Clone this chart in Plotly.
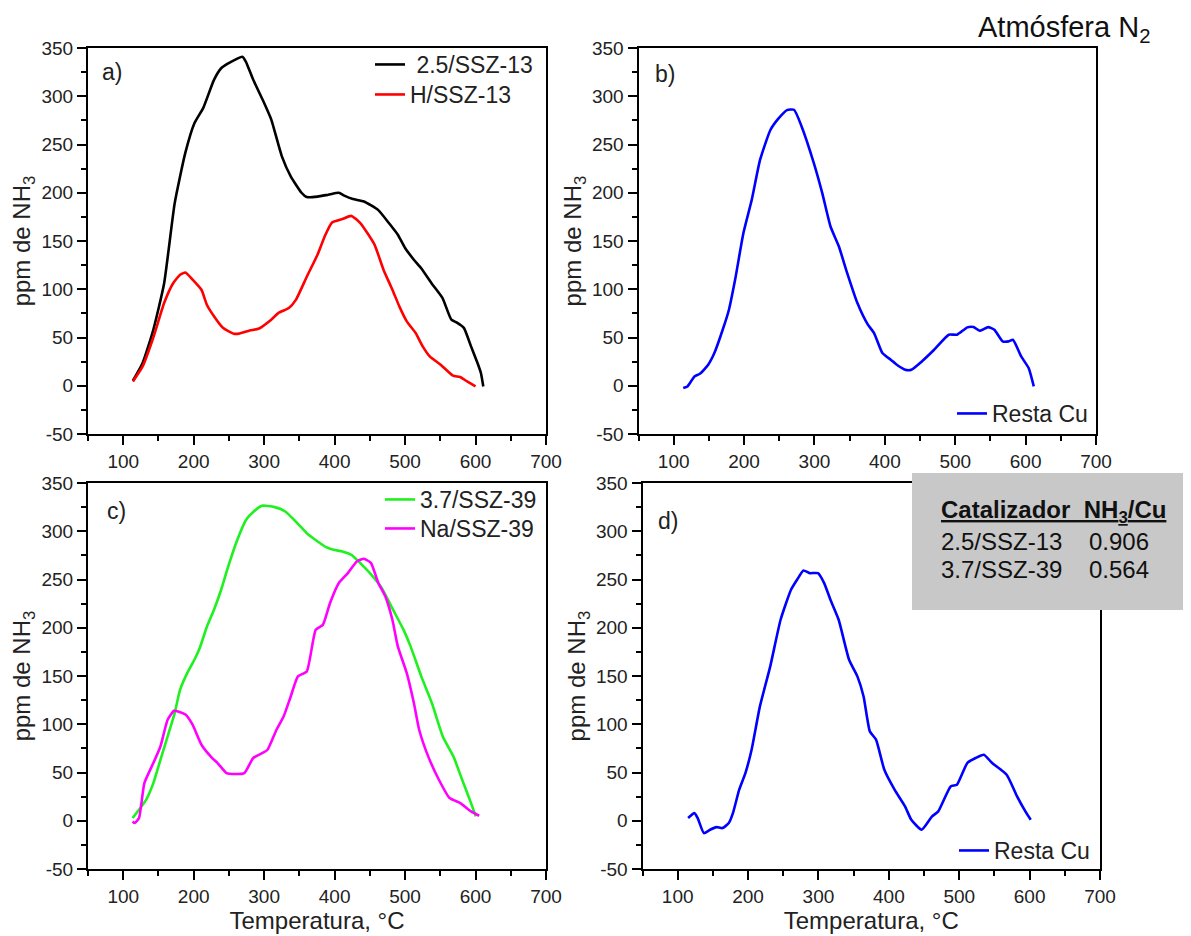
import plotly.graph_objects as go

# ---------------- data ----------------
# a) 2.5/SSZ-13 and H/SSZ-13
temp_a_cu = [113.8, 127.5, 142.7, 158, 173, 188, 201, 213.6, 228.8, 239, 249, 269, 274, 284.5, 300, 310, 325,
             337.7, 353, 360.5, 375.7, 391, 406, 413.7, 426, 441.6, 462, 477, 489.7, 500, 512.5, 522.6, 537.8,
             553, 565.7, 573, 583.4, 593.6, 603.7, 607.7, 611]
nh3_a_cu = [5.2, 23.5, 58, 106, 189, 241, 272, 288, 317, 329, 334, 341, 336, 317, 293, 276, 238,
            217, 200, 195.5, 196, 198, 200, 197, 193.5, 191, 182, 168.6, 156.5, 142.7, 130.6, 122, 106,
            91, 68.4, 65.6, 60, 40.8, 21.8, 13, -0.7]
temp_a_h = [113.8, 127.5, 142.7, 158, 170.6, 180.7, 188.3, 198.4, 211, 218.7, 228.8, 241.5, 256.7, 264.3, 279.5,
            292, 310, 320, 335, 345, 360.5, 375.7, 385.9, 396, 411, 423.8, 436.5, 446.7, 456.8, 469.5, 482,
            492, 502.4, 515, 525, 535, 550.5, 568, 578, 588, 600]
nh3_a_h = [4.5, 20, 50, 85.7, 106, 115, 117.4, 110, 99.5, 84, 72, 60, 54, 54, 57.3,
           59, 68.4, 75.3, 80.5, 89, 113, 135.8, 154.7, 169, 172.7, 176, 168.6, 158, 146, 120, 99.5,
           82, 66.7, 54.6, 40.8, 30.4, 21.8, 10.4, 9, 4.5, -0.7]

# b) Resta Cu (SSZ-13)
temp_b = [113.6, 119.5, 129.5, 137.2, 149, 157.8, 169.6, 178.5, 187.3, 199, 211, 222.7, 237.4, 249, 261, 271,
          281.6, 299, 311, 322.8, 334.6, 346.4, 361, 375.9, 384.7, 396.5, 408.3, 417, 429, 437.7, 452.5,
          470, 490.8, 502.6, 517.3, 526, 535, 546.8, 555.6, 567.4, 576, 582, 593.7, 604.3, 611.6]
nh3_b = [-2.4, -0.7, 9.7, 12.4, 21.8, 33.9, 58, 78.8, 110, 158, 193, 234, 265, 277, 285.6, 286,
         269, 231, 199.8, 165, 144.5, 117, 85.7, 63.3, 54.6, 33.9, 27, 21.8, 16.6, 16.6, 25.2,
         37.3, 52.9, 52.9, 60.5, 60.8, 57, 60.8, 58, 46, 46, 47.7, 30.4, 18.3, -0.7]

# c) 3.7/SSZ-39 and Na/SSZ-39
temp_c_cu = [113.3, 122.4, 132.6, 142.7, 152.8, 163, 173, 180.7, 190.8, 201, 208.6, 218.7, 228.8, 239, 249,
             261.8, 274.4, 284.5, 297, 315, 330, 345, 360.5, 373, 388, 398.5, 411, 423.8, 436.5, 452, 467,
             482, 497.7, 507.8, 523, 538, 553.5, 568.6, 581, 593.6, 600.3]
nh3_c_cu = [2.8, 11.4, 21.8, 39, 63.2, 87.4, 111.6, 135.8, 153, 166.8, 179, 201, 218.7, 239.4, 263.6,
            291, 312, 320, 326.4, 325, 320.5, 310, 298, 291, 283.6, 280.8, 279, 275.6, 267, 255, 241,
            220, 198, 180.7, 149.6, 122, 87.4, 66.7, 42.5, 18.3, 4.5]
temp_c_na = [113.3, 116.4, 122.4, 130, 142.7, 152.8, 163, 172, 178, 188.3, 198.4, 211, 226.3, 233.9, 246.6,
             259, 271.9, 284.5, 297, 304.8, 317.5, 327.6, 337.7, 347.9, 360.5, 373.2, 383.3, 393.5, 406,
             418.8, 431.5, 441.6, 451.7, 462, 472, 482, 489.7, 502.4, 512.5, 520, 532.8, 548, 563.2,
             578.4, 593.6, 605.2]
nh3_c_na = [-0.7, -2.4, 2.8, 39, 59.8, 77, 104.7, 114, 113.3, 110, 99.5, 78.8, 65, 59.8, 49.4,
            48.4, 49.4, 65, 70, 73.6, 94.3, 108, 128.8, 149.6, 154.7, 198, 203, 225.6, 246.3,
            256.6, 268.7, 271.5, 267, 246.3, 232.5, 208.3, 180.7, 153, 122, 94.3, 66.7, 42.5, 23.5,
            18.3, 9.7, 5.2]

# d) Resta Cu (SSZ-39)
temp_d = [114.8, 123.7, 128.4, 137.2, 146, 154.9, 163.7, 172.6, 178.5, 187.3, 196.2, 205, 216.8, 231.5, 246.2,
          261, 269.8, 278.6, 287.5, 299.3, 308.1, 317, 328.7, 343.5, 355.3, 364.1, 373, 381.8, 393.6, 408.3,
          423, 431.9, 446.6, 461.4, 470.2, 487.8, 496.7, 511.4, 523.2, 535, 546.8, 567.4, 582.2, 594, 601.6]
nh3_d = [2.8, 7.9, 2.8, -12.8, -9.3, -6.6, -7.6, -2.4, 7.9, 32, 49.4, 73.6, 118.5, 160, 208.3,
         239.4, 250, 259.4, 256.6, 256.6, 246.3, 229, 208.3, 166.8, 149.6, 128.8, 92.6, 84, 52.8, 32,
         14.9, 1, -9.3, 4.5, 9.7, 35.6, 37.3, 59.8, 65, 68.4, 59.8, 47.7, 25.2, 9.7, 1]

# table
catalysts = ["2.5/SSZ-13", "3.7/SSZ-39"]
nh3_cu_ratio = ["0.906", "0.564"]

panel_labels = ["a)", "b)", "c)", "d)"]
y_ticks = [-50, 0, 50, 100, 150, 200, 250, 300, 350]
y_ticklabels = ["-50", "0", "50", "100", "150", "200", "250", "300", "350"]

# ---------------- layout helpers ----------------
# the page body adds an 8 px margin; size the figure so it fills the 1191x936 window
OFF = 8
W, H = 1191 - OFF, 936 - OFF
FONT = "Liberation Sans, Arial, sans-serif"


def px(x):
    return (x - OFF) / W


def py(y):
    return 1 - (y - OFF) / H


fig = go.Figure()

LW = 2.6
SMOOTH = 0.5
series = [
    (temp_a_cu, nh3_a_cu, "\u00a02.5/SSZ-13", "black", "x", "y", "legend"),
    (temp_a_h, nh3_a_h, "H/SSZ-13", "#ff0000", "x", "y", "legend2"),
    (temp_b, nh3_b, "Resta Cu", "#0000ff", "x2", "y2", "legend3"),
    (temp_c_cu, nh3_c_cu, "3.7/SSZ-39", "#1ff01f", "x3", "y3", "legend4"),
    (temp_c_na, nh3_c_na, "Na/SSZ-39", "#ff00ff", "x3", "y3", "legend5"),
    (temp_d, nh3_d, "Resta Cu", "#0000ff", "x4", "y4", "legend6"),
]
for xs, ys, name, col, xa_, ya_, lg in series:
    fig.add_trace(go.Scatter(x=xs, y=ys, mode="lines", name=name,
                             line=dict(color=col, width=LW, shape="spline", smoothing=SMOOTH),
                             xaxis=xa_, yaxis=ya_, legend=lg))


def xax(domain, anchor, title=None):
    d = dict(domain=domain, anchor=anchor, range=[50, 700], dtick=100, tick0=0,
             ticks="outside", ticklen=9, tickwidth=2, tickcolor="black",
             showline=True, linewidth=2, linecolor="black", mirror=True,
             showgrid=False, zeroline=False, automargin=False,
             tickfont=dict(family=FONT, size=19, color="#222"),
             minor=dict(dtick=50, tick0=0, ticks="outside", ticklen=5, tickwidth=2, tickcolor="black",
                        showgrid=False))
    if title:
        d["title"] = dict(text=title, font=dict(family=FONT, size=24, color="#222"), standoff=2)
    return d


def yax(domain, anchor):
    return dict(domain=domain, anchor=anchor, range=[-50, 350],
                tickmode="array", tickvals=y_ticks, ticktext=y_ticklabels,
                ticks="outside", ticklen=9, tickwidth=2, tickcolor="black",
                showline=True, linewidth=2, linecolor="black", mirror=True,
                showgrid=False, zeroline=False, automargin=False,
                tickfont=dict(family=FONT, size=19, color="#222"),
                title=dict(text="ppm de NH<sub>3</sub>", font=dict(family=FONT, size=24, color="#222"),
                           standoff=4),
                minor=dict(dtick=25, tick0=0, ticks="outside", ticklen=5, tickwidth=2, tickcolor="black",
                           showgrid=False))


xa = [px(88), px(546)]
xb = [px(638.5), px(1096)]
xd = [px(642.5), px(1100)]
ytop = [py(434), py(48)]
ybot = [py(869), py(483)]

legend_font = dict(family=FONT, size=23, color="#222")


def leg(text_left, row_center):
    # legend item: text begins ~41 px right of the legend edge, row centre ~22 px below its top
    return dict(x=px(text_left - 41), y=py(row_center - 22), xanchor="left", yanchor="top",
                bgcolor="rgba(0,0,0,0)", font=legend_font, borderwidth=0)


annotations = []
for lab, (x0, y0) in zip(panel_labels, [(100, 72), (653, 74), (105, 511), (656, 521)]):
    annotations.append(dict(text=lab, x=px(x0), y=py(y0), xref="paper", yref="paper",
                            xanchor="left", yanchor="middle", showarrow=False,
                            font=dict(family=FONT, size=23, color="#222")))

annotations.append(dict(text="Atmósfera N<sub>2</sub>", x=px(976), y=py(8.5), xref="paper", yref="paper",
                        xanchor="left", yanchor="top", showarrow=False,
                        font=dict(family=FONT, size=29, color="#111")))

annotations.append(dict(text="<b><u>Catalizador\u00a0\u00a0NH<sub>3</sub>/Cu</u></b>", x=px(939), y=py(511),
                        xref="paper", yref="paper", xanchor="left", yanchor="middle", showarrow=False,
                        font=dict(family=FONT, size=24, color="#111")))
for i, (cat, val) in enumerate(zip(catalysts, nh3_cu_ratio)):
    yy = 541 + 28 * i
    annotations.append(dict(text=cat, x=px(939), y=py(yy), xref="paper", yref="paper",
                            xanchor="left", yanchor="middle", showarrow=False,
                            font=dict(family=FONT, size=24, color="#111")))
    annotations.append(dict(text=val, x=px(1087), y=py(yy), xref="paper", yref="paper",
                            xanchor="left", yanchor="middle", showarrow=False,
                            font=dict(family=FONT, size=24, color="#111")))

fig.update_layout(
    width=W, height=H,
    margin=dict(l=0, r=0, t=0, b=0, pad=0, autoexpand=False),
    paper_bgcolor="white", plot_bgcolor="white",
    font=dict(family=FONT, color="#222"),
    xaxis=xax(xa, "y"), yaxis=yax(ytop, "x"),
    xaxis2=xax(xb, "y2"), yaxis2=yax(ytop, "x2"),
    xaxis3=xax(xa, "y3", "Temperatura, °C"), yaxis3=yax(ybot, "x3"),
    xaxis4=xax(xd, "y4", "Temperatura, °C"), yaxis4=yax(ybot, "x4"),
    legend=leg(411, 65),
    legend2=leg(411, 95),
    legend3=leg(993, 414),
    legend4=leg(421, 500),
    legend5=leg(421, 529),
    legend6=leg(995, 851),
    showlegend=True,
    shapes=[dict(type="rect", xref="paper", yref="paper", x0=px(912), x1=1.0, y0=py(610), y1=py(473),
                 fillcolor="#c8c8c8", line=dict(width=0), layer="above")],
    annotations=annotations,
)

fig.write_html("out.html")
